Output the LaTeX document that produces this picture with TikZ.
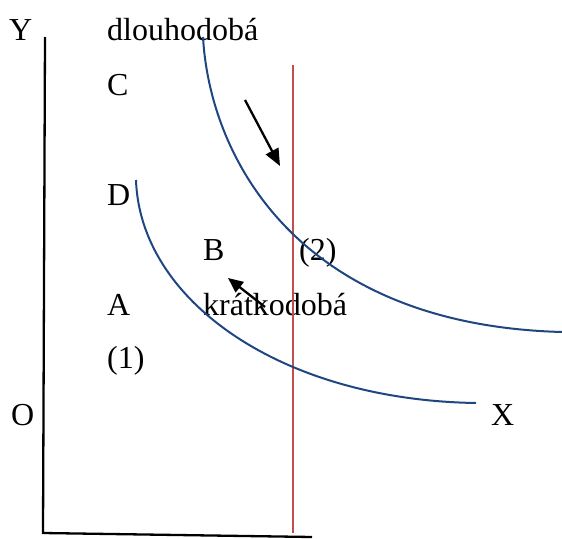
\documentclass[tikz,border=0pt]{standalone}
\usepackage{fontspec}
\setmainfont{Liberation Serif}
\usepackage{tikz}
\usetikzlibrary{arrows.meta,positioning}
\definecolor{curveblue}{RGB}{32,70,130}
\definecolor{linered}{RGB}{192,80,77}

\begin{document}
\begin{tikzpicture}[x=1pt, y=-1pt, every node/.style={font=\fontsize{32}{38}\selectfont, inner sep=0pt, anchor=base west}]
\useasboundingbox (0,0) rectangle (562,538);
% axes
\coordinate (ytop) at (45,37);
\coordinate (orig) at (43,533);
\coordinate (xend) at (312,537);
\draw[line width=2.3pt] (ytop) -- (orig) -- (xend);
% labels
\node (ylab) at (9,40) {Y};
\node (olab) at (11,425) {O};
\node (xlab) at (491,425) {X};
\node (long) at (107,40) {dlouhodobá};
\node (cpt) at (107,95) {C};
\node (dpt) at (107,205) {D};
\node (bpt) at (203,260) {B};
\node (two) at (299,260) {(2)};
\node (apt) at (107,315) {A};
\node (short) at (203,315) {krátkodobá};
\node (one) at (107,368) {(1)};
% vertical line
\coordinate (rtop) at (293,65);
\coordinate (rbot) at (293,533);
\draw[linered, line width=2pt] (rtop) -- (rbot);
% curves
\coordinate (lstart) at (203,37);
\coordinate (lend) at (562,332);
\draw[curveblue, line width=2pt] (lstart) .. controls (210,160) and (300,325) .. (lend);
\coordinate (sstart) at (136,180);
\coordinate (send) at (476,403);
\draw[curveblue, line width=2pt] (sstart) .. controls (140,300) and (280,400) .. (send);
% shift arrows
\coordinate (a1) at (245,100);
\coordinate (a2) at (280,166);
\draw[-{Triangle[length=17pt, width=14pt]}, line width=2.3pt] (a1) -- (a2);
\coordinate (b1) at (265,307);
\coordinate (b2) at (228,278);
\draw[-{Triangle[length=15pt, width=13pt]}, line width=2.3pt] (b1) -- (b2);
\end{tikzpicture}
\end{document}
